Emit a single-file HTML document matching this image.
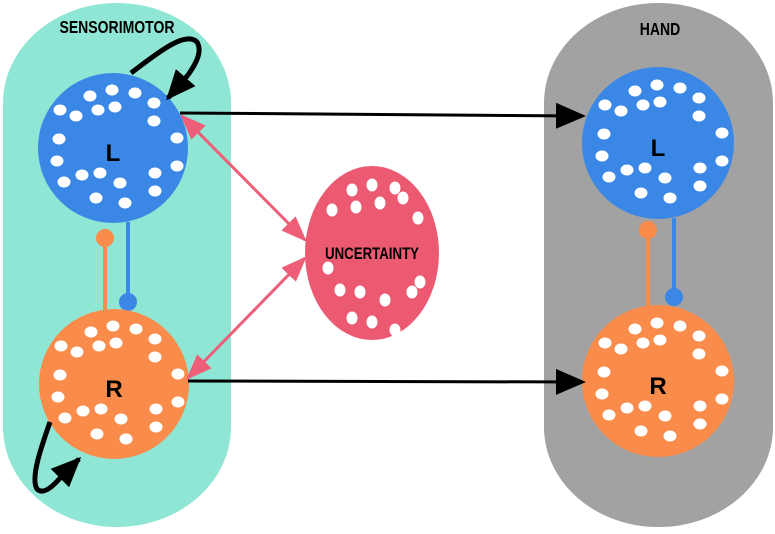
<!DOCTYPE html>
<html><head><style>body{margin:0;background:#fff}svg{display:block}</style></head><body>
<svg width="775" height="534" viewBox="0 0 775 534" xmlns="http://www.w3.org/2000/svg">
<defs>
<marker id="abk" viewBox="0 0 10 10" refX="9" refY="5" markerWidth="30" markerHeight="26" orient="auto" markerUnits="userSpaceOnUse" preserveAspectRatio="none"><path d="M0,0 L10,5 L0,10z" fill="#000"/></marker>
<marker id="pk" viewBox="0 0 10 10" refX="9" refY="5" markerWidth="26" markerHeight="20" orient="auto-start-reverse" markerUnits="userSpaceOnUse" preserveAspectRatio="none"><path d="M0,0 L10,5 L0,10z" fill="#ee5e78"/></marker>
<g id="dots" fill="#fff">
<ellipse cx="-23" cy="-52" rx="6.5" ry="5.5"/><ellipse cx="-1" cy="-58" rx="6.5" ry="5.5"/><ellipse cx="22" cy="-55" rx="6.5" ry="5.5"/><ellipse cx="41" cy="-45" rx="6.5" ry="5.5"/>
<ellipse cx="-53" cy="-38" rx="6.5" ry="5.5"/><ellipse cx="-37" cy="-32" rx="6.5" ry="5.5"/><ellipse cx="-15" cy="-38" rx="6.5" ry="5.5"/><ellipse cx="2" cy="-41" rx="6.5" ry="5.5"/>
<ellipse cx="41" cy="-27" rx="6.5" ry="5.5"/><ellipse cx="-54" cy="-9" rx="6.5" ry="5.5"/><ellipse cx="64" cy="-10" rx="6.5" ry="5.5"/><ellipse cx="-56" cy="13" rx="6.5" ry="5.5"/>
<ellipse cx="64" cy="18" rx="6.5" ry="5.5"/><ellipse cx="-31" cy="27" rx="6.5" ry="5.5"/><ellipse cx="-13" cy="25" rx="6.5" ry="5.5"/><ellipse cx="7" cy="35" rx="6.5" ry="5.5"/>
<ellipse cx="42" cy="25" rx="6.5" ry="5.5"/><ellipse cx="-49" cy="34" rx="6.5" ry="5.5"/><ellipse cx="-17" cy="50" rx="6.5" ry="5.5"/><ellipse cx="12" cy="55" rx="6.5" ry="5.5"/><ellipse cx="42" cy="43" rx="6.5" ry="5.5"/>
</g>
</defs>
<rect x="3" y="3" width="228" height="524" rx="114" ry="100" fill="#90e6d4"/>
<rect x="544" y="3" width="229" height="524" rx="114" ry="100" fill="#a2a2a2"/>
<g font-family="Liberation Sans, sans-serif" font-weight="bold" text-anchor="middle">
<text x="0" y="33" font-size="18" transform="translate(117 0) scale(0.78 1)">SENSORIMOTOR</text>
<text x="0" y="35" font-size="18" transform="translate(660 0) scale(0.78 1)">HAND</text>
</g>
<g stroke-width="4">
<line x1="105" y1="238" x2="105" y2="310" stroke="#f98c4a"/><circle cx="105" cy="238" r="9" fill="#f98c4a"/>
<line x1="128" y1="222" x2="128" y2="300" stroke="#3a87e6"/><circle cx="128" cy="302" r="9" fill="#3a87e6"/>
<line x1="648" y1="230" x2="648" y2="308" stroke="#f98c4a"/><circle cx="648" cy="230" r="9" fill="#f98c4a"/>
<line x1="674" y1="218" x2="674" y2="295" stroke="#3a87e6"/><circle cx="674" cy="297" r="9" fill="#3a87e6"/>
</g>
<circle cx="113" cy="148" r="75" fill="#3a87e6"/>
<circle cx="114" cy="384" r="75" fill="#f98c4a"/>
<circle cx="658" cy="143" r="76" fill="#3a87e6"/>
<circle cx="658" cy="381" r="76" fill="#f98c4a"/>
<use href="#dots" x="113" y="148"/><use href="#dots" x="114" y="384"/><use href="#dots" x="658" y="143"/><use href="#dots" x="658" y="381"/>
<ellipse cx="372" cy="253" rx="67" ry="87" fill="#ec5a72"/>
<g fill="#fff">
<ellipse cx="352" cy="190" rx="5.5" ry="6.5"/><ellipse cx="372" cy="185" rx="5.5" ry="6.5"/><ellipse cx="395" cy="188" rx="5.5" ry="6.5"/><ellipse cx="332" cy="210" rx="5.5" ry="6.5"/>
<ellipse cx="356" cy="207" rx="5.5" ry="6.5"/><ellipse cx="380" cy="203" rx="5.5" ry="6.5"/><ellipse cx="403" cy="198" rx="5.5" ry="6.5"/><ellipse cx="418" cy="218" rx="5.5" ry="6.5"/>
<ellipse cx="340" cy="290" rx="5.5" ry="6.5"/><ellipse cx="360" cy="292" rx="5.5" ry="6.5"/><ellipse cx="385" cy="300" rx="5.5" ry="6.5"/><ellipse cx="412" cy="292" rx="5.5" ry="6.5"/>
<ellipse cx="352" cy="318" rx="5.5" ry="6.5"/><ellipse cx="372" cy="322" rx="5.5" ry="6.5"/><ellipse cx="395" cy="330" rx="5.5" ry="6.5"/><ellipse cx="420" cy="282" rx="5.5" ry="6.5"/><ellipse cx="328" cy="268" rx="5.5" ry="6.5"/>
</g>
<g font-family="Liberation Sans, sans-serif" font-weight="bold" text-anchor="middle" font-size="24">
<text x="113" y="161">L</text><text x="114" y="397">R</text><text x="658" y="156">L</text><text x="658" y="394">R</text>
<text x="0" y="259" font-size="17" transform="translate(372 0) scale(0.78 1)">UNCERTAINTY</text>
</g>
<line x1="180" y1="113" x2="583" y2="116" stroke="#000" stroke-width="3" marker-end="url(#abk)"/>
<line x1="188" y1="381" x2="583" y2="382" stroke="#000" stroke-width="3" marker-end="url(#abk)"/>
<line x1="182" y1="116" x2="305" y2="240" stroke="#ee5e78" stroke-width="3" marker-start="url(#pk)" marker-end="url(#pk)"/>
<line x1="188" y1="378" x2="305" y2="258" stroke="#ee5e78" stroke-width="3" marker-start="url(#pk)" marker-end="url(#pk)"/>
<path d="M131,73 C155,55 185,30 197,42 C203,52 195,65 188,75" fill="none" stroke="#000" stroke-width="5"/>
<path d="M188,75 L168,98" stroke="#000" stroke-width="5" marker-end="url(#abk)"/>
<path d="M50,422 C42,445 30,478 37,489 C44,496 55,484 62,476" fill="none" stroke="#000" stroke-width="5"/>
<path d="M62,476 L79,459" stroke="#000" stroke-width="5" marker-end="url(#abk)"/>
</svg>
</body></html>
